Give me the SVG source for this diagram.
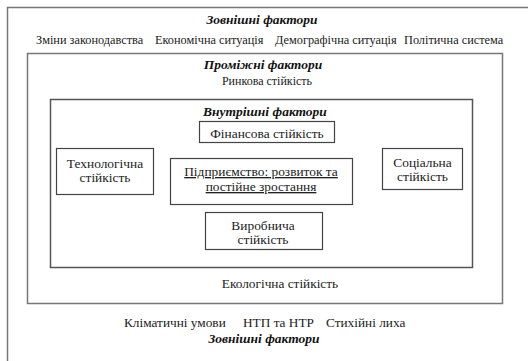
<svg xmlns="http://www.w3.org/2000/svg" width="528" height="361" viewBox="0 0 528 361">
<style>
text{font-family:"Liberation Serif","Times New Roman",serif;fill:#222}
.t{font-size:12.3px}
.r{font-size:13.3px}
.b{font-size:13.4px;text-anchor:middle}
.h{font-size:13.5px;font-weight:bold;font-style:italic;fill:#111;text-anchor:middle}
.m{text-anchor:middle}
.frame{fill:none;stroke:#777;stroke-width:1.5}
.box{fill:#fff;stroke:#444;stroke-width:1.2}
</style>
<rect width="528" height="361" fill="#fff"/>
<g id="outer">
<path class="frame" d="M7.5 370 V7.5 H540"/>
<text class="h" x="262" y="24">Зовнішні фактори</text>
<text class="t" x="36" y="43.5">Зміни законодавства</text>
<text class="t" x="155" y="43.5">Економічна ситуація</text>
<text class="t" x="275" y="43.5">Демографічна ситуація</text>
<text class="t" x="404" y="43.5">Політична система</text>
<text class="r" x="124" y="327">Кліматичні умови</text>
<text class="r" x="243" y="327">НТП та НТР</text>
<text class="r" x="326" y="327">Стихійні лиха</text>
<text class="h" x="264" y="343">Зовнішні фактори</text>
</g>
<g id="intermediate">
<rect class="frame" x="27.5" y="53.5" width="475" height="250"/>
<text class="h" x="263" y="69">Проміжні фактори</text>
<text class="m" x="267" y="85" style="font-size:12px">Ринкова стійкість</text>
<text class="r m" x="280" y="288">Екологічна стійкість</text>
</g>
<g id="internal">
<rect class="frame" x="50.5" y="99.5" width="422" height="168" style="stroke:#555"/>
<text class="h" x="265" y="116">Внутрішні фактори</text>
</g>
<g id="financial">
<rect class="box" x="199.5" y="121.5" width="135" height="21"/>
<text class="b" x="267" y="137.5">Фінансова стійкість</text>
</g>
<g id="technological">
<rect class="box" x="56.5" y="148.5" width="97" height="46"/>
<text class="b" x="105" y="167.5">Технологічна</text>
<text class="b" x="105" y="181.5">стійкість</text>
</g>
<g id="enterprise">
<rect class="box" x="170.5" y="158.5" width="182" height="46"/>
<text class="b" x="261" y="176" text-decoration="underline">Підприємство: розвиток та</text>
<text class="b" x="261" y="191" text-decoration="underline">постійне зростання</text>
</g>
<g id="social">
<rect class="box" x="382.5" y="148.5" width="80" height="41"/>
<text class="b" x="422.5" y="166.5">Соціальна</text>
<text class="b" x="422.5" y="180.5">стійкість</text>
</g>
<g id="production">
<rect class="box" x="205.5" y="212.5" width="117" height="37"/>
<text class="b" x="263" y="230">Виробнича</text>
<text class="b" x="263" y="244">стійкість</text>
</g>
<g id="connectors"></g>
</svg>
